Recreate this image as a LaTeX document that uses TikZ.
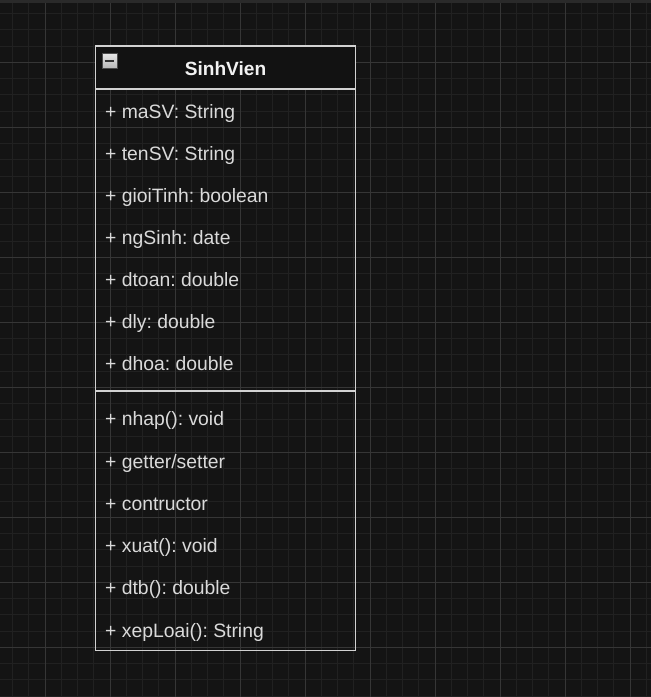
\documentclass[tikz,border=0pt]{standalone}
\usepackage{fontspec}
\setmainfont{Liberation Sans}
\frenchspacing
\definecolor{bgc}{HTML}{141414}
\definecolor{topc}{HTML}{2A2A2A}
\definecolor{minorc}{HTML}{212121}
\definecolor{majorc}{HTML}{363636}
\definecolor{borderc}{HTML}{D2D2D2}
\definecolor{txtc}{HTML}{DADADA}
\definecolor{titlec}{HTML}{F2F2F2}
\definecolor{headc}{HTML}{121212}
\tikzset{
  minorline/.style={draw=minorc, line width=1pt},
  majorline/.style={draw=majorc, line width=1pt},
  sect/.style={draw=borderc, line width=1.5pt, inner sep=0pt, outer sep=0pt, minimum width=260pt, anchor=north west},
  hdr/.style={sect, fill=headc},
  member/.style={anchor=base west, inner sep=0pt, text=txtc, font=\fontsize{19.35}{22}\selectfont},
  titletext/.style={anchor=base, inner sep=0pt, text=titlec, font=\bfseries\fontsize{19.1}{22}\selectfont},
  togglebox/.style={draw=gray!60!black, line width=0.8pt, top color=gray!20, bottom color=gray!55, minimum width=15pt, minimum height=15pt, inner sep=0pt}
}
\begin{document}
\begin{tikzpicture}[x=1pt,y=-1pt]
\useasboundingbox (0,0) rectangle (651,697);
\fill[bgc] (0,0) rectangle (651,697);
\fill[topc] (0,0) rectangle (651,3);
% minor grid
\foreach \i in {-3,...,37} \draw[minorline] ({45+16.25*\i},3) -- ({45+16.25*\i},697);
\foreach \i in {-3,...,40} \draw[minorline] (0,{62.3+16.25*\i}) -- (651,{62.3+16.25*\i});
% major grid
\foreach \i in {0,...,9} \draw[majorline] ({45+65*\i},3) -- ({45+65*\i},697);
\foreach \i in {0,...,9} \draw[majorline] (0,{62.3+65*\i}) -- (651,{62.3+65*\i});
% class box
\node[hdr, minimum height=43pt] (head) at (95.5,46) {};
\node[sect, minimum height=302pt] (attrs) at (head.south west) {};
\node[sect, minimum height=259.5pt] (meths) at (attrs.south west) {};
\node[titletext] (title) at (225.5,75.7) {SinhVien};
\node[togglebox] (toggle) at (109.5,61) {};
\draw[line width=2pt, draw=black!80] ([xshift=3pt]toggle.west) -- ([xshift=-3pt]toggle.east);
% attributes
\node[member] (a1) at (105,118.3) {+ maSV: String};
\node[member] (a2) at (105,160.2) {+ tenSV: String};
\node[member] (a3) at (105,202.2) {+ gioiTinh: boolean};
\node[member] (a4) at (105,244.1) {+ ngSinh: date};
\node[member] (a5) at (105,286.0) {+ dtoan: double};
\node[member] (a6) at (105,328.0) {+ dly: double};
\node[member] (a7) at (105,370.0) {+ dhoa: double};
% methods
\node[member] (m1) at (105,425.7) {+ nhap(): void};
\node[member] (m2) at (105,468.0) {+ getter/setter};
\node[member] (m3) at (105,510.3) {+ contructor};
\node[member] (m4) at (105,552.6) {+ xuat(): void};
\node[member] (m5) at (105,594.9) {+ dtb(): double};
\node[member] (m6) at (105,637.2) {+ xepLoai(): String};
\end{tikzpicture}
\end{document}
